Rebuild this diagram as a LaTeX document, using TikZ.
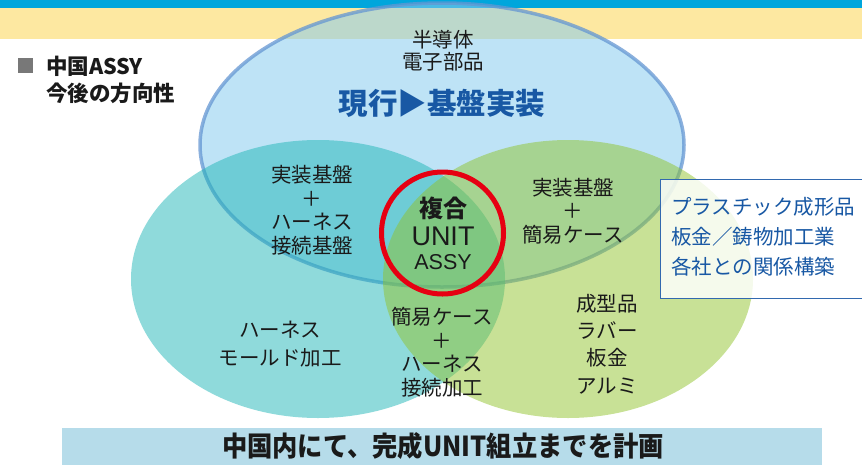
\documentclass[tikz,border=0pt]{standalone}
\usepackage{fontspec}
\setmainfont{Noto Sans CJK JP}
\newfontfamily\latf{Liberation Sans}
\newfontfamily\condf[FakeStretch=0.92]{Noto Sans CJK JP}
\definecolor{barblue}{RGB}{0,166,220}
\definecolor{baryellow}{RGB}{253,232,161}
\definecolor{ellblue}{RGB}{136,204,238}
\definecolor{ellblueedge}{RGB}{100,150,210}
\definecolor{ellteal}{RGB}{31,181,183}
\definecolor{ellgreen}{RGB}{145,195,45}
\definecolor{corered}{RGB}{230,0,18}
\definecolor{txt}{RGB}{26,26,26}
\definecolor{bluetxt}{RGB}{24,88,164}
\definecolor{boxedge}{RGB}{50,105,175}
\definecolor{banner}{RGB}{182,220,234}
\definecolor{headgrey}{RGB}{120,120,120}
\tikzset{
  lab/.style={align=center, text=txt, inner sep=0pt, font=\fontsize{20.5}{23.5}\selectfont},
  labwide/.style={lab, font=\fontsize{20.5}{27.5}\selectfont},
  ellst/.style={fill opacity=0.5, draw=none},
}
\begin{document}
\begin{tikzpicture}[x=1pt, y=-1pt]
\useasboundingbox (0,0) rectangle (862,469);
% top bars
\fill[barblue] (0,0) rectangle (862,8);
\fill[baryellow] (0,8) rectangle (862,39);
% ellipses
\path[fill=ellblue, fill opacity=0.55, draw=ellblueedge, draw opacity=0.75, line width=3.5pt]
  (442,145) ellipse [x radius=242pt, y radius=142pt];
\path[ellst, fill=ellteal] (318,279) ellipse [x radius=187pt, y radius=139pt];
\path[ellst, fill=ellgreen] (568,279) ellipse [x radius=185pt, y radius=139pt];
% header
\node[fill=headgrey, minimum size=15pt, inner sep=0pt] (sq) at (25.5,65.5) {};
\node[anchor=west, align=left, inner sep=0pt, text=txt, font=\bfseries\fontsize{21.5}{27}\selectfont] (head) at (46,79.5) {中国ASSY\\今後の方向性};
% texts
\node[lab, font=\fontsize{20.5}{22}\selectfont] (semi) at (443,51) {半導体\\電子部品};
\node[inner sep=0pt, text=bluetxt, font=\bfseries\fontsize{29.5}{31}\selectfont] (cur) at (442,103) {現行▶基盤実装};
\node[lab] (lt) at (312,210) {実装基盤\\＋\\ハーネス\\接続基盤};
\node[lab, font=\fontsize{20.5}{27.5}\selectfont] (harn) at (280,344) {ハーネス\\モールド加工};
\node[lab] (rt) at (573,211) {実装基盤\\＋\\簡易ケース};
\node[lab] (bot) at (442,352) {簡易ケース\\＋\\ハーネス\\接続加工};
\node[labwide, font=\fontsize{20.5}{27.3}\selectfont] (mat) at (607,344) {成型品\\ラバー\\板金\\アルミ};
% core
\node[circle, draw=corered, line width=5pt, minimum size=122pt, inner sep=0pt] (core) at (442.5,233) {};
\node[inner sep=0pt, text=txt, font=\bfseries\fontsize{24}{26}\selectfont] (fuku) at (443,208) {複合};
\node[inner sep=0pt, text=txt, font=\latf\fontsize{27}{29}\selectfont] (unit) at (443,236) {UNIT};
\node[inner sep=0pt, text=txt, font=\latf\fontsize{21.5}{23}\selectfont] (assy) at (443,262) {ASSY};
% right box
\node[draw=boxedge, line width=1pt, fill=white, fill opacity=0.82, minimum width=215pt, minimum height=119pt, anchor=north west, inner sep=0pt] (box) at (659.5,178.5) {};
\node[anchor=west, align=left, inner sep=0pt, text=bluetxt, font=\fontsize{20.5}{30}\selectfont] (boxtxt) at (671,237) {プラスチック成形品\\板金／鋳物加工業\\各社との関係構築};
% banner
\node[fill=banner, minimum width=760pt, minimum height=37pt, inner sep=0pt] (ban) at (442,446.5) {};
\node[inner sep=0pt, text=txt, font=\condf\bfseries\fontsize{27.5}{29}\selectfont] (bantxt) at (443,446) {中国内にて、完成UNIT組立までを計画};
\end{tikzpicture}
\end{document}
